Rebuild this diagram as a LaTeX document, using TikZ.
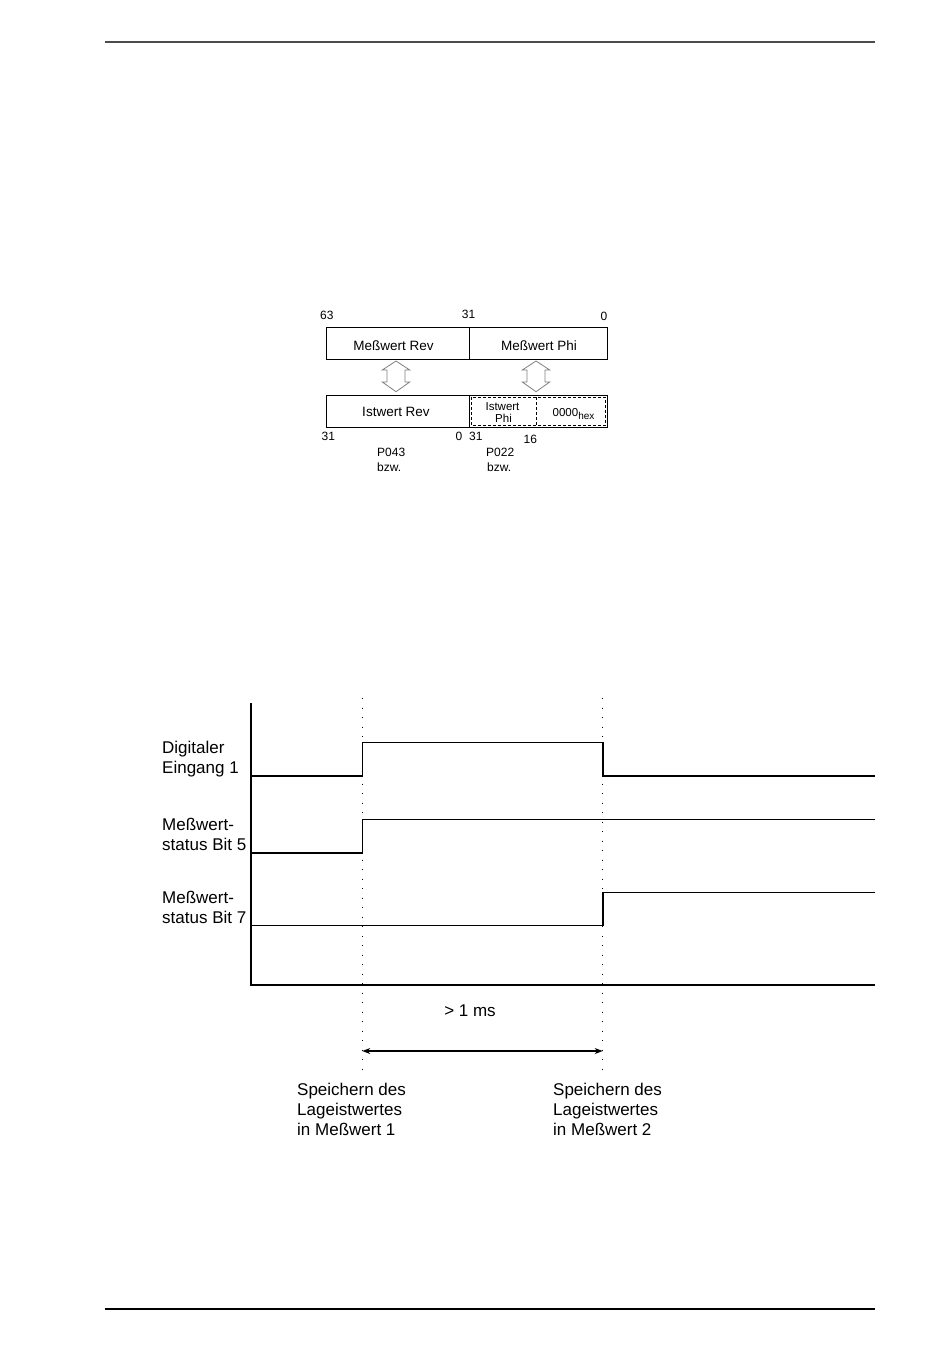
\documentclass[tikz,border=0pt]{standalone}
\usepackage{fontspec}
\setmainfont{Liberation Sans}
\usetikzlibrary{arrows.meta}
\begin{document}
\begin{tikzpicture}[x=1pt,y=-1pt,
  big/.style={font=\fontsize{17}{20}\selectfont, inner sep=0pt, anchor=base west, align=left},
  boxtxt/.style={font=\fontsize{13.5}{16}\selectfont, inner sep=0pt, anchor=base},
  num/.style={font=\fontsize{12}{14}\selectfont, inner sep=0pt, anchor=base west},
  small/.style={font=\fontsize{11.5}{13}\selectfont, inner sep=0pt, anchor=base},
  sig/.style={line width=1.6pt, line join=miter},
  frame/.style={line width=0.9pt},
  dash box/.style={line width=0.9pt, dash pattern=on 3pt off 2pt},
  hollow/.style={draw=black!50, line width=0.8pt, fill=white},
  dotline/.style={line width=1.1pt, dash pattern=on 1.1pt off 8.4pt}
]
\useasboundingbox (0,0) rectangle (950,1368);
% page rules
\draw[line width=1.2pt, black!70] (105,42) -- (875,42);
\draw[line width=1.2pt] (105,1309) -- (875,1309);

% ---------- register diagram ----------
\node[draw, frame, minimum width=143pt, minimum height=32pt, inner sep=0pt, anchor=north west] (mrev) at (326,327) {};
\node[draw, frame, minimum width=138pt, minimum height=32pt, inner sep=0pt, anchor=north west] (mphi) at (469,327) {};
\node[draw, frame, minimum width=143pt, minimum height=32pt, inner sep=0pt, anchor=north west] (irev) at (326,395) {};
\node[draw, frame, minimum width=138pt, minimum height=32pt, inner sep=0pt, anchor=north west] (iphi) at (469,395) {};
\draw[dash box] (471.3,397.3) rectangle (605.5,425.5);
\draw[dash box] (536,397.3) -- (536,425.5);

\node[boxtxt] (t1) at (393.5,350.5) {Meßwert Rev};
\node[boxtxt] (t2) at (539,350.5) {Meßwert Phi};
\node[boxtxt] (t3) at (396,416) {Istwert Rev};
\node[small] (t4) at (502.5,410) {Istwert};
\node[small] (t5) at (503.5,422.5) {Phi};
\node[font=\fontsize{11.5}{13}\selectfont, inner sep=0pt, anchor=base west] (t6) at (552.5,416) {0000\textsubscript{\fontsize{10}{11}\selectfont hex}};

\node[num] (n63) at (320,319) {63};
\node[num, anchor=base] (n31a) at (468.5,318.5) {31};
\node[num, anchor=base east] (n0a) at (607.5,320) {0};
\node[num] (n31b) at (321.5,440.5) {31};
\node[num] (n0b) at (455.5,440.5) {0};
\node[num] (n31c) at (469,440.5) {31};
\node[num] (n16) at (523.5,443.5) {16};
\node[num] (p43) at (377,456.5) {P043};
\node[num] (bz1) at (377,471) {bzw.};
\node[num] (p22) at (486,456.5) {P022};
\node[num] (bz2) at (487,471) {bzw.};

% hollow double arrows
\foreach \cx/\nm in {396/al,536/ar}{
  \draw[hollow] (\cx,361) -- (\cx+13.7,370) -- (\cx+9,370) -- (\cx+9,382) -- (\cx+13.7,382)
    -- (\cx,391.7) -- (\cx-13.7,382) -- (\cx-9,382) -- (\cx-9,370) -- (\cx-13.7,370) -- cycle;
}

% ---------- timing diagram ----------
\coordinate (axtop) at (251,703);
\coordinate (axorg) at (251,985);
\coordinate (axend) at (875,985);
\draw[line width=1.4pt] (axtop) -- (axorg) -- (axend);

\coordinate (d1top) at (362.3,698);
\coordinate (d1bot) at (362.3,1075);
\coordinate (d2top) at (602.7,698);
\coordinate (d2bot) at (602.7,1075);
\draw[dotline] (d1top) -- (d1bot);
\draw[dotline] (d2top) -- (d2bot);

\draw[sig] (251,776) -- (362.3,776) -- (362.3,742.3) -- (602.7,742.3) -- (602.7,776) -- (875,776);
\draw[sig] (251,852.7) -- (362.3,852.7) -- (362.3,819.3) -- (875,819.3);
\draw[sig] (251,925.3) -- (602.7,925.3) -- (602.7,892.3) -- (875,892.3);

\node[big] (l1a) at (162,753) {Digitaler};
\node[big] (l1b) at (162,773) {Eingang 1};
\node[big] (l2a) at (162,830) {Meßwert-};
\node[big] (l2b) at (162,850) {status Bit 5};
\node[big] (l3a) at (162,903) {Meßwert-};
\node[big] (l3b) at (162,923) {status Bit 7};

\node[big, anchor=base] (ms) at (470,1016) {> 1 ms};
\coordinate (a1) at (362.3,1051);
\coordinate (a2) at (602.7,1051);
\draw[line width=1.6pt, {Stealth[length=8pt,width=6pt]}-{Stealth[length=8pt,width=6pt]}] (a1) -- (a2);

\node[big] (s1a) at (297,1095) {Speichern des};
\node[big] (s1b) at (297,1115) {Lageistwertes};
\node[big] (s1c) at (297,1135) {in Meßwert 1};
\node[big] (s2a) at (553,1095) {Speichern des};
\node[big] (s2b) at (553,1115) {Lageistwertes};
\node[big] (s2c) at (553,1135) {in Meßwert 2};
\end{tikzpicture}
\end{document}
